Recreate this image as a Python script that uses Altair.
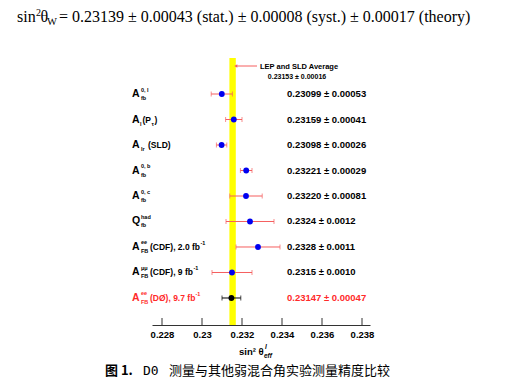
import altair as alt
import pandas as pd

# ---------------- data ----------------
measurements = ["A_fb^0,l", "A_l(P_tau)", "A_lr (SLD)", "A_fb^0,b", "A_fb^0,c",
                "Q_fb^had", "A_FB^ee (CDF), 2.0 fb-1", "A_FB^mumu (CDF), 9 fb-1",
                "A_FB^ee (D0), 9.7 fb-1"]
values = [0.23099, 0.23159, 0.23098, 0.23221, 0.23220, 0.2324, 0.2328, 0.2315, 0.23147]
errors = [0.00053, 0.00041, 0.00026, 0.00029, 0.00081, 0.0012, 0.0011, 0.0010, 0.00047]
value_texts = ["0.23099 \u00b1 0.00053", "0.23159 \u00b1 0.00041", "0.23098 \u00b1 0.00026",
               "0.23221 \u00b1 0.00029", "0.23220 \u00b1 0.00081", "0.2324 \u00b1 0.0012",
               "0.2328 \u00b1 0.0011", "0.2315 \u00b1 0.0010", "0.23147 \u00b1 0.00047"]
is_d0 = [False] * 8 + [True]

label_base = ["A", "A", "A", "A", "A", "Q", "A", "A", "A"]
label_sup = ["0, l", "", "", "0, b", "0, c", "had", "ee", "\u03bc\u03bc", "ee"]
label_sub = ["fb", "l", "lr", "fb", "fb", "fb", "FB", "FB", "FB"]
label_rest = ["", "(P", "(SLD)", "", "", "", "(CDF), 2.0 fb", "(CDF), 9 fb", "(D\u00d8), 9.7 fb"]
label_rest_sup = ["", "", "", "", "", "", "-1", "-1", "-1"]

lep_avg = 0.23153
lep_err = 0.00016
x_ticks = [0.228, 0.230, 0.232, 0.234, 0.236, 0.238]
x_domain = [0.2275, 0.2384]

title_rest = "= 0.23139 \u00b1 0.00043 (stat.) \u00b1 0.00008 (syst.) \u00b1 0.00017 (theory)"
caption_fig = "图 1."
caption_d0 = "D0"
caption_text = "测量与其他弱混合角实验测量精度比较"

# ---------------- style ----------------
W, H = 218, 267
SANS = "Liberation Sans"
SERIF = "Liberation Serif"
RED_BAR = "#f55f5f"
RED_TXT = "#ff2a2a"
BLUE = "#0000f0"

df = pd.DataFrame({
    "row": list(range(len(values))),
    "val": values,
    "err": errors,
    "txt": value_texts,
    "d0": is_d0,
})
df["lo"] = df["val"] - df["err"]
df["hi"] = df["val"] + df["err"]
df_other = df[~df["d0"]]
df_d0 = df[df["d0"]]

xs = alt.Scale(domain=x_domain, nice=False, zero=False)
ys = alt.Scale(domain=[-1.412, 9.059], reverse=True, nice=False, zero=False)
x_axis = alt.Axis(values=x_ticks, format="~g", ticks=False, grid=False,
                  domainColor="#333333", domainWidth=1,
                  labelFont=SANS, labelFontSize=9.5, labelFontWeight="bold",
                  labelColor="black", labelPadding=4, title=None)
X = lambda f: alt.X(f, type="quantitative", scale=xs, axis=x_axis)
Y = lambda f: alt.Y(f, type="quantitative", scale=ys, axis=None)

layers = []

# x axis inward ticks
layers.append(alt.Chart(pd.DataFrame({"t": x_ticks})).mark_rule(color="#333333", strokeWidth=1).encode(
    x=X("t"), y=alt.value(H - 7), y2=alt.value(H)))

# yellow LEP band
band_df = pd.DataFrame({"lo": [lep_avg - lep_err], "hi": [lep_avg + lep_err]})
layers.append(alt.Chart(band_df).mark_rect(color="#ffff00").encode(
    x=X("lo"), x2="hi", y=alt.value(0), y2=alt.value(H)))

# error bars (with end caps) and points
for frame, bar_c, pt_c in [(df_other, RED_BAR, BLUE), (df_d0, "black", "black")]:
    layers.append(alt.Chart(frame).mark_rule(strokeWidth=1, color=bar_c).encode(
        x=X("lo"), x2="hi", y=Y("row")))
    for f in ["lo", "hi"]:
        layers.append(alt.Chart(frame).mark_tick(orient="vertical", size=5, thickness=1,
                                                 color=bar_c).encode(
            x=X(f), y=Y("row")))
    layers.append(alt.Chart(frame).mark_circle(size=34, opacity=1, color=pt_c).encode(
        x=X("val"), y=Y("row")))

# value texts
layers.append(alt.Chart(df).mark_text(align="left", baseline="middle", font=SANS,
                                      fontSize=9.5, fontWeight="bold").encode(
    x=alt.value(135), y=Y("row"), text="txt:N",
    color=alt.condition("datum.d0", alt.value(RED_TXT), alt.value("black"))))

# row labels
lab = pd.DataFrame({"row": list(range(len(values))), "base": label_base, "sup": label_sup,
                    "sub": label_sub, "rest": label_rest, "rsup": label_rest_sup, "d0": is_d0})
lab_color = alt.condition("datum.d0", alt.value(RED_TXT), alt.value("black"))


def piece(frame, field, x, size, dy):
    return alt.Chart(frame).mark_text(align="left", baseline="middle", font=SANS,
                                      fontSize=size, fontWeight="bold", dy=dy).encode(
        x=alt.value(x), y=Y("row"), text=f"{field}:N", color=lab_color)


layers.append(piece(lab, "base", -20, 10.5, 0))
layers.append(piece(lab, "sup", -11, 5.5, -4.5))
layers.append(piece(lab[lab["row"] != 1], "sub", -11, 5.5, 4))
layers.append(piece(lab[lab["row"] == 1], "sub", -12, 5.5, 4))
rest_x = {1: -9.5, 2: -4, 6: -2, 7: -2, 8: -2}
for r, xx in rest_x.items():
    layers.append(piece(lab[lab["row"] == r], "rest", xx, 8.5, 0))
rsup_x = {6: 48.5, 7: 41.5, 8: 43.5}
for r, xx in rsup_x.items():
    layers.append(piece(lab[lab["row"] == r], "rsup", xx, 5.5, -4))
# tau subscript and closing bracket on row 1
tau_df = pd.DataFrame({"row": [1], "s": ["\u03c4"], "c": [")"], "d0": [False]})
layers.append(piece(tau_df, "s", -0.5, 5.5, 4))
layers.append(piece(tau_df, "c", 2.5, 8.5, 0))


def txt(s, x, y, size, font=SANS, weight="bold", color="black", align="left", italic=False):
    return alt.Chart(pd.DataFrame({"t": [s]})).mark_text(
        align=align, baseline="alphabetic", font=font, fontSize=size, fontWeight=weight,
        fontStyle="italic" if italic else "normal", color=color).encode(
        x=alt.value(x), y=alt.value(y), text="t:N")


# LEP annotation with arrow
arrow_df = pd.DataFrame({"x": [lep_avg + lep_err]})
layers.append(alt.Chart(arrow_df).mark_rule(color=RED_BAR, strokeWidth=1).encode(
    x=X("x"), x2=alt.value(105), y=alt.value(8)))
layers.append(alt.Chart(arrow_df).mark_point(shape="triangle-left", filled=True, size=12,
                                             color=RED_BAR, opacity=1).encode(
    x=X("x"), y=alt.value(8)))
layers.append(txt("LEP and SLD Average", 108, 11, 7.5))
layers.append(txt(f"{lep_avg:.5f} \u00b1 {lep_err:.5f}", 145, 20.5, 7, align="center"))

# x axis title: sin^2 theta_eff^l
layers.append(txt("sin\u00b2 \u03b8", 87, 297, 9.5))
layers.append(txt("eff", 112, 299.5, 6.5, italic=True))
layers.append(txt("l", 113, 291, 6.5, italic=True))

# top formula: sin^2 theta_W = ...
layers.append(txt("sin", -135, -36, 16, font=SERIF, weight="normal"))
layers.append(txt("2", -116, -42, 10, font=SERIF, weight="normal"))
layers.append(txt("\u03b8", -111.5, -36, 16, font=SERIF, weight="normal"))
layers.append(txt("W", -105, -33.5, 10.5, font=SERIF, weight="normal"))
layers.append(txt(title_rest, -93, -36, 16, font=SERIF, weight="normal"))

# caption
layers.append(txt(caption_fig, -47, 317, 13, font="Noto Sans CJK SC", weight="bold"))
layers.append(txt(caption_d0, -9, 317, 13, font="DejaVu Sans Mono", weight="normal"))
layers.append(txt(caption_text, 17, 317, 13, font="Noto Sans CJK SC", weight="normal"))

chart = alt.layer(*layers).properties(
    width=W, height=H,
    autosize=alt.AutoSizeParams(type="none"),
    padding={"left": 144, "top": 50, "right": 124, "bottom": 56},
).configure_view(stroke=None)

chart.save("out.html", embed_options={"renderer": "svg", "actions": False})
